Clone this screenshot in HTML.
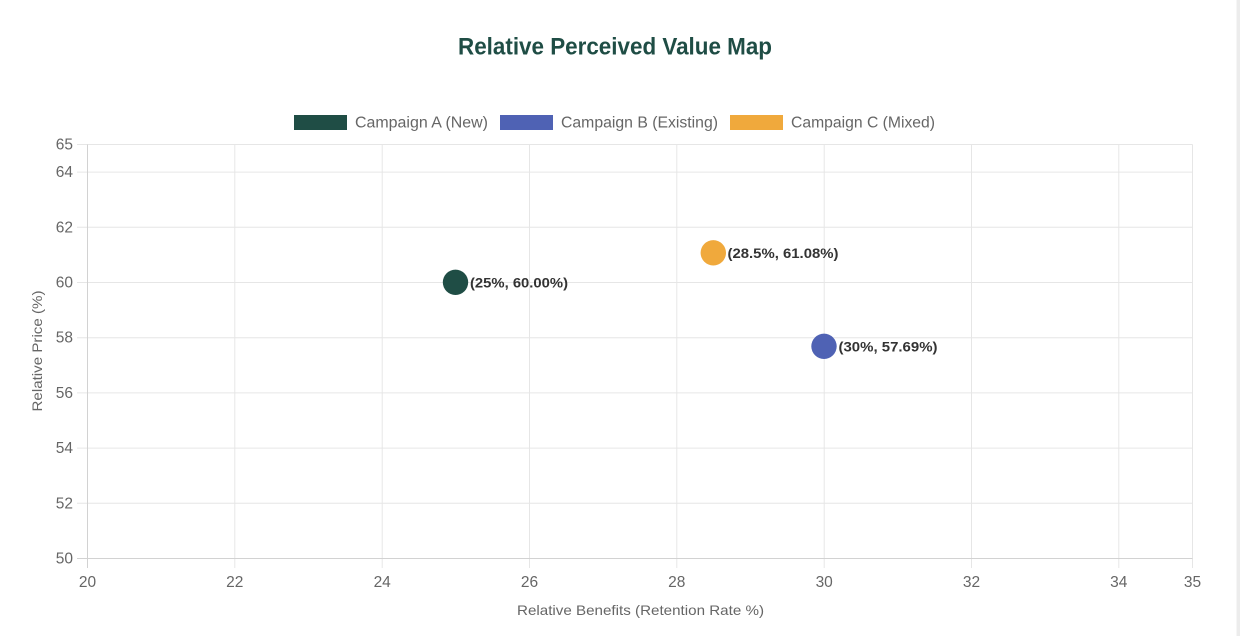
<!DOCTYPE html>
<html>
<head>
<meta charset="utf-8">
<style>
html,body{margin:0;padding:0;background:#fff;}
body{width:1240px;height:636px;overflow:hidden;}
svg{display:block;}
text{font-family:"Liberation Sans",Arial,sans-serif;}
</style>
</head>
<body>
<svg width="1240" height="636" viewBox="0 0 1240 636" xmlns="http://www.w3.org/2000/svg">
  <rect x="0" y="0" width="1240" height="636" fill="#ffffff"/>
  <rect x="1236.5" y="0" width="3.5" height="636" fill="#ececec"/>

  <!-- Title -->
  <text x="615" y="54.5" text-anchor="middle" font-size="24" font-weight="bold" fill="#1f4d45" textLength="314" lengthAdjust="spacingAndGlyphs">Relative Perceived Value Map</text>

  <!-- Legend -->
  <rect x="294" y="115" width="53" height="15" fill="#1f4d45"/>
  <text x="355" y="127.5" font-size="15.5" fill="#666" textLength="133" lengthAdjust="spacingAndGlyphs">Campaign A (New)</text>
  <rect x="500" y="115" width="53" height="15" fill="#4f62b4"/>
  <text x="561" y="127.5" font-size="15.5" fill="#666" textLength="157" lengthAdjust="spacingAndGlyphs">Campaign B (Existing)</text>
  <rect x="730" y="115" width="53" height="15" fill="#f0a93c"/>
  <text x="791" y="127.5" font-size="15.5" fill="#666" textLength="144" lengthAdjust="spacingAndGlyphs">Campaign C (Mixed)</text>

  <!-- Grid -->
  <g stroke="#e6e6e6" stroke-width="1">
    <line x1="77" y1="503.3" x2="1192.5" y2="503.3"/>
    <line x1="77" y1="448.1" x2="1192.5" y2="448.1"/>
    <line x1="77" y1="392.9" x2="1192.5" y2="392.9"/>
    <line x1="77" y1="337.7" x2="1192.5" y2="337.7"/>
    <line x1="77" y1="282.5" x2="1192.5" y2="282.5"/>
    <line x1="77" y1="227.3" x2="1192.5" y2="227.3"/>
    <line x1="77" y1="172.1" x2="1192.5" y2="172.1"/>
    <line x1="77" y1="144.5" x2="1192.5" y2="144.5"/>
    <line x1="234.8" y1="144.5" x2="234.8" y2="568"/>
    <line x1="382.2" y1="144.5" x2="382.2" y2="568"/>
    <line x1="529.5" y1="144.5" x2="529.5" y2="568"/>
    <line x1="676.8" y1="144.5" x2="676.8" y2="568"/>
    <line x1="824.2" y1="144.5" x2="824.2" y2="568"/>
    <line x1="971.5" y1="144.5" x2="971.5" y2="568"/>
    <line x1="1118.8" y1="144.5" x2="1118.8" y2="568"/>
    <line x1="1192.5" y1="144.5" x2="1192.5" y2="568"/>
  </g>
  <!-- Axes -->
  <g stroke="#d2d2d2" stroke-width="1">
    <line x1="87.5" y1="144.5" x2="87.5" y2="568"/>
    <line x1="77" y1="558.5" x2="1192.5" y2="558.5"/>
  </g>

  <!-- Y tick labels -->
  <g font-size="15.5" fill="#666" text-anchor="end">
    <text x="73" y="563.5">50</text>
    <text x="73" y="508.3">52</text>
    <text x="73" y="453.1">54</text>
    <text x="73" y="397.9">56</text>
    <text x="73" y="342.7">58</text>
    <text x="73" y="287.5">60</text>
    <text x="73" y="232.3">62</text>
    <text x="73" y="177.1">64</text>
    <text x="73" y="149.5">65</text>
  </g>
  <!-- X tick labels -->
  <g font-size="15.5" fill="#666" text-anchor="middle">
    <text x="87.5" y="587">20</text>
    <text x="234.8" y="587">22</text>
    <text x="382.2" y="587">24</text>
    <text x="529.5" y="587">26</text>
    <text x="676.8" y="587">28</text>
    <text x="824.2" y="587">30</text>
    <text x="971.5" y="587">32</text>
    <text x="1118.8" y="587">34</text>
    <text x="1192.5" y="587">35</text>
  </g>

  <!-- Axis titles -->
  <text x="640.5" y="615" text-anchor="middle" font-size="14" fill="#666" textLength="247" lengthAdjust="spacingAndGlyphs">Relative Benefits (Retention Rate %)</text>
  <text transform="translate(42,351) rotate(-90)" x="0" y="0" text-anchor="middle" font-size="14" fill="#666" textLength="121" lengthAdjust="spacingAndGlyphs">Relative Price (%)</text>

  <!-- Points -->
  <circle cx="455.5" cy="282.3" r="12.7" fill="#1f4d45"/>
  <circle cx="824" cy="346.3" r="12.7" fill="#4f62b4"/>
  <circle cx="713.3" cy="252.8" r="12.7" fill="#f0a93c"/>

  <!-- Point labels -->
  <g font-size="14" font-weight="bold" fill="#333">
    <text x="470" y="287.3" textLength="98" lengthAdjust="spacingAndGlyphs">(25%, 60.00%)</text>
    <text x="838.5" y="351.3" textLength="99" lengthAdjust="spacingAndGlyphs">(30%, 57.69%)</text>
    <text x="727.5" y="257.8" textLength="111" lengthAdjust="spacingAndGlyphs">(28.5%, 61.08%)</text>
  </g>
</svg>
</body>
</html>
